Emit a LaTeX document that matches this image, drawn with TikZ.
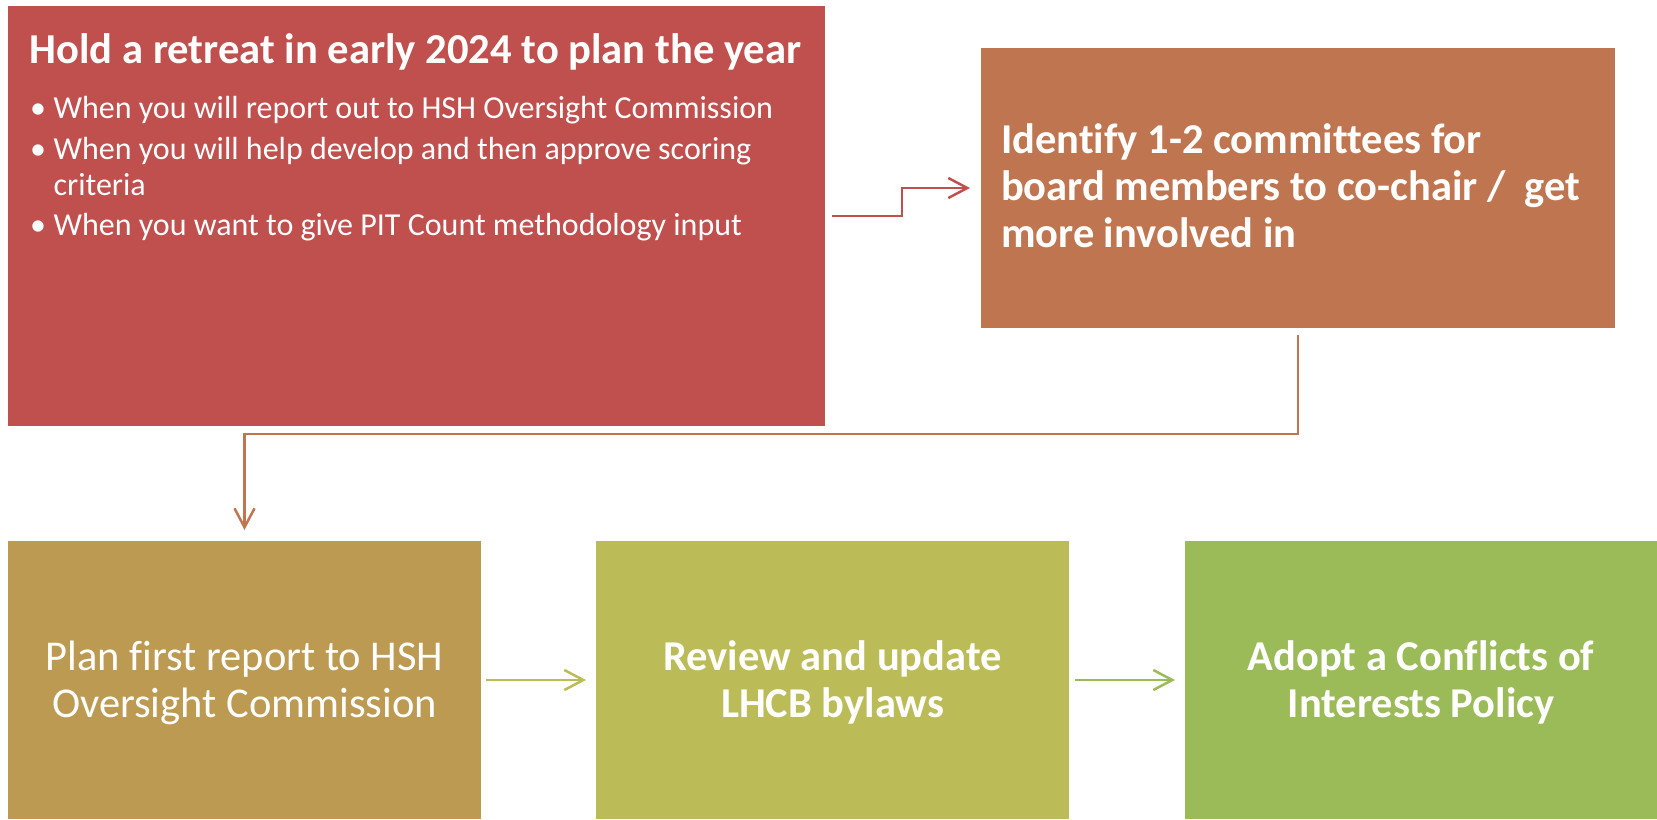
\documentclass[tikz,border=0pt]{standalone}
\usepackage{fontspec}
\setmainfont{Carlito}[Ligatures=CommonOff]
\usetikzlibrary{arrows.meta}
\definecolor{cRed}{HTML}{C0504D}
\definecolor{cOrange}{HTML}{BF7650}
\definecolor{cTan}{HTML}{BD9A52}
\definecolor{cOlive}{HTML}{BBBB57}
\definecolor{cGreen}{HTML}{9BBB59}
\newcommand\fTitle{\bfseries\fontsize{21.3}{25}\selectfont}
\newcommand\fBullet{\fontsize{16}{19}\selectfont}
\newcommand\fBoxB{\bfseries\fontsize{21.25}{25}\selectfont}
\newcommand\fBoxR{\fontsize{21.25}{25}\selectfont}
\begin{document}
\begin{tikzpicture}[x=0.5pt,y=-0.5pt,
  stepbox/.style={draw=none, inner sep=0pt, outer sep=0pt, anchor=north west, minimum width=#1},
  txt/.style={text=white, inner sep=0pt, outer sep=0pt},
  conn/.style={line width=1.25pt, -{Straight Barb[length=9.5pt,width=10pt]}},
  link/.style={line width=1.25pt}]
\useasboundingbox (0,0) rectangle (1657,819);
% boxes
\node[stepbox=408.5pt, minimum height=210pt, fill=cRed] (b1) at (8,6) {};
\node[stepbox=317pt, minimum height=140pt, fill=cOrange] (b2) at (981,48) {};
\node[stepbox=236.5pt, minimum height=139pt, fill=cTan] (b3) at (8,541) {};
\node[stepbox=236.5pt, minimum height=139pt, fill=cOlive] (b4) at (596,541) {};
\node[stepbox=236pt, minimum height=139pt, fill=cGreen] (b5) at (1185,541) {};
% box 1 text
\node[txt, anchor=base west, font=\fTitle] (t1) at (29.6,63) {Hold a retreat in early 2024 to plan the year};
\node[txt, anchor=base west, font=\fBullet] (d1) at (30,118) {•};
\node[txt, anchor=base west, font=\fBullet] (l1) at (53.6,118) {When you will report out to HSH Oversight Commission};
\node[txt, anchor=base west, font=\fBullet] (d2) at (30,159) {•};
\node[txt, anchor=base west, font=\fBullet] (l2) at (53.6,159) {When you will help develop and then approve scoring};
\node[txt, anchor=base west, font=\fBullet] (l2b) at (53.6,195) {criteria};
\node[txt, anchor=base west, font=\fBullet] (d3) at (30,235) {•};
\node[txt, anchor=base west, font=\fBullet] (l3) at (53.6,235) {When you want to give PIT Count methodology input};
% box 2 text
\node[txt, anchor=base west, font=\fBoxB] (i1) at (1001,153) {Identify 1-2 committees for};
\node[txt, anchor=base west, font=\fBoxB] (i2) at (1001,200) {board members to co-chair /\ \ get};
\node[txt, anchor=base west, font=\fBoxB] (i3) at (1001,247) {more involved in};
% bottom texts
\node[txt, anchor=base, font=\fBoxR] (p1) at (244.5,670) {Plan first report to HSH};
\node[txt, anchor=base, font=\fBoxR] (p2) at (244.5,717) {Oversight Commission};
\node[txt, anchor=base, font=\fBoxB] (r1) at (832.5,670) {Review and update};
\node[txt, anchor=base, font=\fBoxB] (r2) at (832.5,717) {LHCB bylaws};
\node[txt, anchor=base, font=\fBoxB] (a1) at (1421,670) {Adopt a Conflicts of};
\node[txt, anchor=base, font=\fBoxB] (a2) at (1421,717) {Interests Policy};
% connectors
\draw[conn, draw=cRed] ([xshift=3.5pt]b1.east) -- ++(70,0) |- ([xshift=-5.5pt]b2.west);
\draw[conn, draw=cOrange] ([yshift=-3.5pt]b2.south) -- ++(0,99) -| ([yshift=5.5pt]b3.north);
\draw[conn, draw=cOlive] ([xshift=2.5pt]b3.east) -- ([xshift=-5pt]b4.west);
\draw[conn, draw=cGreen] ([xshift=3pt]b4.east) -- ([xshift=-5pt]b5.west);
\end{tikzpicture}
\end{document}
